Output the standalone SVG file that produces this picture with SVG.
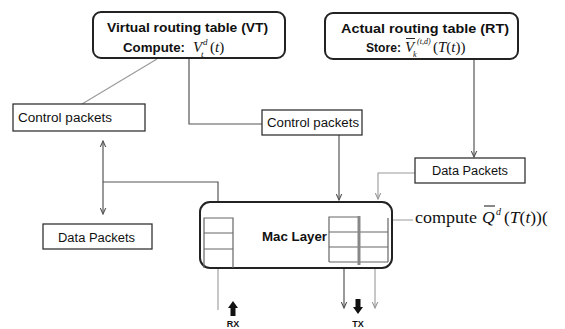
<svg xmlns="http://www.w3.org/2000/svg" width="565" height="329" viewBox="0 0 565 329">
<defs>
<style>
.bx{fill:#fff;stroke:#222;stroke-width:2}
.sb{fill:#fff;stroke:#333;stroke-width:1.3}
.t{font-family:"Liberation Sans",Arial,sans-serif;fill:#111}
.b{font-weight:bold}
.m{font-family:"Liberation Serif","Times New Roman",serif;fill:#111}
.i{font-style:italic}
.c{fill:none;stroke:#555;stroke-width:1.2}
.cl{fill:none;stroke:#999;stroke-width:1.1}
.q{fill:none;stroke:#666;stroke-width:1.2}
</style>
<marker id="ah" viewBox="0 0 8 8" refX="7" refY="4" markerWidth="7" markerHeight="7" orient="auto-start-reverse" markerUnits="userSpaceOnUse">
<path d="M0,0.8 L7,4 L0,7.2" fill="none" stroke="#555" stroke-width="1.3"/>
</marker>
<marker id="ahl" viewBox="0 0 8 8" refX="7" refY="4" markerWidth="7" markerHeight="7" orient="auto" markerUnits="userSpaceOnUse">
<path d="M0,0.8 L7,4 L0,7.2" fill="none" stroke="#999" stroke-width="1.3"/>
</marker>
</defs>
<rect width="565" height="329" fill="#fff"/>

<g id="connectors">
<line class="cl" x1="157" y1="59" x2="82" y2="104"/>
<path class="c" d="M189,58 V124 H262"/>
<path class="c" d="M339,135 V200" marker-end="url(#ah)"/>
<path class="c" d="M474,60 V157" marker-end="url(#ah)"/>
<path class="cl" d="M415,173 H378 V199" marker-end="url(#ahl)"/>
<path class="c" d="M103,141 V214" marker-start="url(#ah)" marker-end="url(#ah)"/>
<path class="c" d="M103,182 H218 V218"/>
<path class="cl" d="M413,220 H380"/>
<polygon points="373,220.5 381,216.5 381,224.5" fill="#111"/>
<path class="cl" d="M218,310 V256" marker-end="url(#ahl)"/>
<path class="c" d="M344,262 V308" marker-end="url(#ah)"/>
<path class="cl" d="M375,262 V308" marker-end="url(#ahl)"/>
</g>

<g id="vt">
<rect class="bx" x="93" y="12" width="192" height="46" rx="8"/>
<text class="t b" x="107" y="32" font-size="13" textLength="161" lengthAdjust="spacingAndGlyphs">Virtual routing table (VT)</text>
<text class="t b" x="123" y="52" font-size="13" textLength="62" lengthAdjust="spacingAndGlyphs">Compute:</text>
<text class="m i" x="193" y="52" font-size="15">V</text>
<text class="m i" x="203" y="45" font-size="9">d</text>
<text class="m i" x="201" y="57" font-size="9">t</text>
<text class="m" x="210" y="52" font-size="15">(<tspan class="i">t</tspan>)</text>
</g>

<g id="rt">
<rect class="bx" x="325" y="13" width="193" height="46" rx="8"/>
<text class="t b" x="341" y="33" font-size="13" textLength="168" lengthAdjust="spacingAndGlyphs">Actual routing table (RT)</text>
<text class="t b" x="366" y="52" font-size="13" textLength="35" lengthAdjust="spacingAndGlyphs">Store:</text>
<text class="m i" x="405" y="52" font-size="15">V</text>
<line x1="406" y1="38.5" x2="415" y2="38.5" stroke="#111" stroke-width="0.9"/>
<text class="m i" x="417" y="44" font-size="8">(t,d)</text>
<text class="m i" x="413" y="57" font-size="8">k</text>
<text class="m" x="433" y="52" font-size="15">(<tspan class="i">T</tspan>(<tspan class="i">t</tspan>))</text>
</g>

<g id="cp-left">
<rect class="sb" x="13" y="104" width="132" height="27"/>
<text class="t" x="18" y="122" font-size="12" textLength="94" lengthAdjust="spacingAndGlyphs">Control packets</text>
</g>

<g id="cp-mid">
<rect class="sb" x="262" y="110" width="100" height="25"/>
<text class="t" x="267" y="127" font-size="12" textLength="92" lengthAdjust="spacingAndGlyphs">Control packets</text>
</g>

<g id="dp-left">
<rect class="sb" x="43" y="224" width="109" height="25"/>
<text class="t" x="58" y="242" font-size="12" textLength="77" lengthAdjust="spacingAndGlyphs">Data Packets</text>
</g>

<g id="dp-right">
<rect class="sb" x="415" y="158" width="110" height="25"/>
<text class="t" x="432" y="175" font-size="12" textLength="76" lengthAdjust="spacingAndGlyphs">Data Packets</text>
</g>

<g id="mac">
<rect class="bx" x="200" y="202" width="192" height="66" rx="10"/>
<text class="t b" x="262" y="241" font-size="12" textLength="65" lengthAdjust="spacingAndGlyphs">Mac Layer</text>
<path class="q" d="M204,268 V218 H233 V268 M204,233 H233 M204,249 H233"/>
<path class="q" d="M329,262 V217 H358 M329,232 H388 M329,247 H388 M329,262 H388 M388,218 V262"/>
<line x1="359" y1="216" x2="359" y2="265" stroke="#888" stroke-width="3"/>
</g>

<g id="compute">
<text class="m" x="415" y="223" font-size="17.5" textLength="62" lengthAdjust="spacingAndGlyphs">compute</text>
<text class="m i" x="482" y="223" font-size="17.5">Q</text>
<line x1="484" y1="206" x2="495" y2="206" stroke="#111" stroke-width="1"/>
<text class="m i" x="496" y="215" font-size="10">d</text>
<text class="m" x="504" y="223" font-size="17.5">(<tspan class="i">T</tspan>(<tspan class="i">t</tspan>))(</text>
</g>

<g id="rx">
<polygon points="233,301 238,308 235.5,308 235.5,316 230.5,316 230.5,308 228,308" fill="#111"/>
<text class="t b" x="233" y="327" font-size="9" text-anchor="middle">RX</text>
</g>

<g id="tx">
<polygon points="358,314 363,307 360.5,307 360.5,299 355.5,299 355.5,307 353,307" fill="#111"/>
<text class="t b" x="358" y="327" font-size="9" text-anchor="middle">TX</text>
</g>
</svg>
